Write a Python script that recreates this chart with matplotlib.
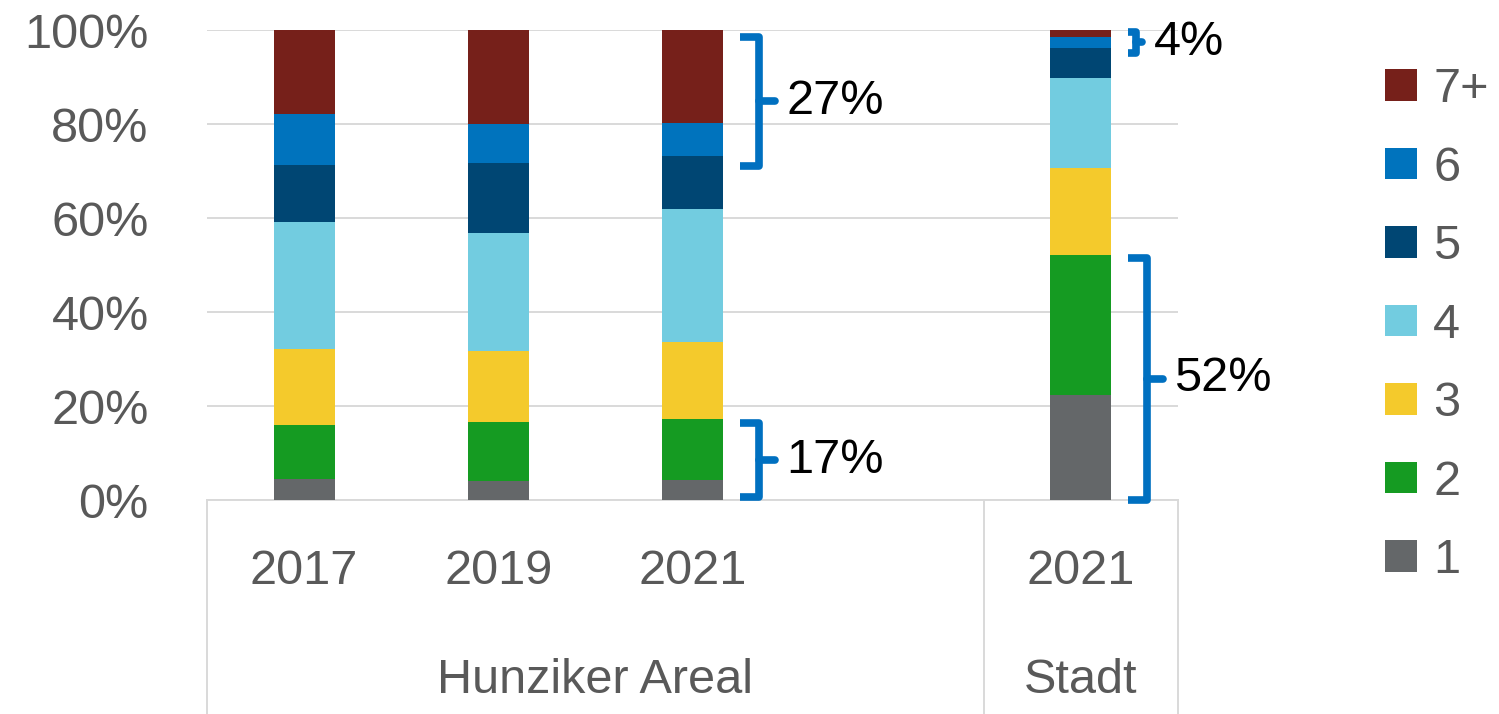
import numpy as np
import matplotlib
matplotlib.use("Agg")
import matplotlib.pyplot as plt
from matplotlib.patches import Patch
from matplotlib.transforms import blended_transform_factory

plt.rcParams['font.family'] = ['Liberation Sans', 'DejaVu Sans']

# bar groups
years = ["2017", "2019", "2021", "2021"]
groups = ["Hunziker Areal", "Stadt"]
positions = [0, 1, 2, 4]

# share of households per household size (percent)
size_labels = ["1", "2", "3", "4", "5", "6", "7+"]
s1 = [4.4, 4.1, 4.3, 22.4]
s2 = [11.6, 12.4, 12.9, 29.8]
s3 = [16.1, 15.3, 16.5, 18.4]
s4 = [27.0, 25.0, 28.2, 19.1]
s5 = [12.1, 15.0, 11.2, 6.5]
s6 = [11.0, 8.2, 7.1, 2.3]
s7 = [17.8, 20.0, 19.8, 1.5]
series = [s1, s2, s3, s4, s5, s6, s7]
colors = ["#646769", "#159b22", "#f4ca2c", "#72cce0", "#004673", "#0073bd", "#76201a"]

# brackets: (bar index, y bottom, y top, label)
brackets = [(2, 71.0, 98.6, "27%"), (2, 0.6, 16.4, "17%"),
            (3, 95.2, 99.5, "4%"), (3, 0.0, 51.5, "52%")]

W, H = 1499, 714
fig = plt.figure(figsize=(W / 100, H / 100), dpi=100)
ax = fig.add_axes([207 / W, 214 / H, 971 / W, 470 / H])

bar_w = 61 / 194.2
bottom = np.zeros(len(positions))
for vals, col in zip(series, colors):
    ax.bar(positions, vals, width=bar_w, bottom=bottom, color=col, linewidth=0, zorder=3)
    bottom += np.array(vals)

ax.set_xlim(-0.5, 4.5)
ax.set_ylim(0, 100)
ax.set_yticks(np.arange(0, 101, 20))
ax.set_yticklabels([f"{v}%" for v in range(0, 101, 20)])
ax.tick_params(axis='y', length=0, pad=42, labelsize=35, labelcolor='#595959')
ax.set_xticks([])
ax.grid(axis='y', color='#d9d9d9', linewidth=1.4, zorder=0)
for s in ['top', 'right', 'left']:
    ax.spines[s].set_visible(False)
ax.spines['bottom'].set_color('#d9d9d9')
ax.spines['bottom'].set_linewidth(1.4)

# category labels
tr = blended_transform_factory(ax.transData, ax.transAxes)
for p, y in zip(positions, years):
    ax.text(p, -0.153, y, transform=tr, ha='center', va='center',
            fontsize=35, color='#595959')
ax.text(1.5, -0.385, groups[0], transform=tr, ha='center', va='center',
        fontsize=35, color='#595959')
ax.text(4.0, -0.385, groups[1], transform=tr, ha='center', va='center',
        fontsize=35, color='#595959')
for xs in [-0.5, 3.5, 4.5]:
    ax.plot([xs, xs], [0, -0.46], transform=tr, color='#d9d9d9',
            linewidth=1.4, clip_on=False)

# brackets with labels
px = 1 / 194.2
for i, y0, y1, lab in brackets:
    edge = positions[i] + bar_w / 2
    x0 = edge + 17 * px
    xv = edge + 36 * px
    xt = edge + 52 * px
    ym = (y0 + y1) / 2
    if lab == "4%":
        xv = edge + 25 * px
        xt = edge + 31 * px
    ax.plot([x0, xv, xv, x0], [y1, y1, y0, y0], color='#0070c0', linewidth=5.5,
            solid_joinstyle='round', solid_capstyle='butt', clip_on=False, zorder=4)
    ax.plot([xv, xt], [ym, ym], color='#0070c0', linewidth=5.5,
            solid_capstyle='round', clip_on=False, zorder=4)
    ax.text(xt + 11 * px, ym, lab, ha='left', va='center', fontsize=35, color='black')

handles = [Patch(facecolor=c, edgecolor='none') for c in colors][::-1]
fig.legend(handles, size_labels[::-1], loc='upper left',
           bbox_to_anchor=(1385 / W, 1 - 67 / H), frameon=False, fontsize=35,
           handlelength=0.66, handleheight=0.62, handletextpad=0.33,
           labelspacing=0.69, borderpad=0, borderaxespad=0, labelcolor='#595959')

fig.savefig("out.png", dpi=100)
